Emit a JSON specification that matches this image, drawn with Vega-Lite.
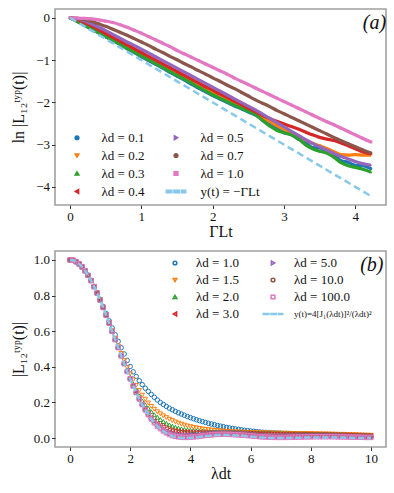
{
"$schema":"https://vega.github.io/schema/vega-lite/v6.json",
"padding":{"left":9,"top":8,"right":6,"bottom":4},
"bounds":"flush",
"spacing":46,
"config":{
 "font":"Liberation Serif",
 "view":{"stroke":"#a0a0a0","strokeWidth":1.6},
 "axis":{"grid":false,"domain":false,"ticks":true,"tickColor":"#333","tickSize":3.5,"tickWidth":1,"labelFont":"Liberation Serif","labelFontSize":13,"labelColor":"#111","labelPadding":2,"titleFont":"Liberation Serif","titleFontSize":16,"titleFontWeight":"normal","titleColor":"#111"},
 "legend":{"labelFont":"Liberation Serif","labelFontSize":13,"labelFontWeight":"normal","labelColor":"#111"}
},
"resolve":{"scale":{"color":"independent","shape":"independent"},"legend":{"color":"independent","shape":"independent"}},
"datasets":{
"a":[
{"s":"0.1","x":0,"y":0},{"s":"0.1","x":0.1,"y":-0.085},{"s":"0.1","x":0.2,"y":-0.175},{"s":"0.1","x":0.3,"y":-0.265},{"s":"0.1","x":0.4,"y":-0.355},{"s":"0.1","x":0.5,"y":-0.45},{"s":"0.1","x":0.6,"y":-0.54},{"s":"0.1","x":0.7,"y":-0.63},{"s":"0.1","x":0.8,"y":-0.73},{"s":"0.1","x":0.9,"y":-0.82},{"s":"0.1","x":1.0,"y":-0.92},{"s":"0.1","x":1.1,"y":-1.01},{"s":"0.1","x":1.2,"y":-1.1},{"s":"0.1","x":1.3,"y":-1.19},{"s":"0.1","x":1.4,"y":-1.29},{"s":"0.1","x":1.5,"y":-1.38},{"s":"0.1","x":1.6,"y":-1.47},{"s":"0.1","x":1.7,"y":-1.57},{"s":"0.1","x":1.8,"y":-1.66},{"s":"0.1","x":1.9,"y":-1.75},{"s":"0.1","x":2.0,"y":-1.84},{"s":"0.1","x":2.1,"y":-1.92},{"s":"0.1","x":2.2,"y":-2.0},{"s":"0.1","x":2.3,"y":-2.08},{"s":"0.1","x":2.4,"y":-2.15},{"s":"0.1","x":2.5,"y":-2.23},{"s":"0.1","x":2.6,"y":-2.3},{"s":"0.1","x":2.7,"y":-2.41},{"s":"0.1","x":2.8,"y":-2.53},{"s":"0.1","x":2.9,"y":-2.6},{"s":"0.1","x":3.0,"y":-2.72},{"s":"0.1","x":3.1,"y":-2.76},{"s":"0.1","x":3.2,"y":-2.87},{"s":"0.1","x":3.3,"y":-2.94},{"s":"0.1","x":3.4,"y":-3.07},{"s":"0.1","x":3.5,"y":-3.08},{"s":"0.1","x":3.6,"y":-3.16},{"s":"0.1","x":3.7,"y":-3.24},{"s":"0.1","x":3.8,"y":-3.38},{"s":"0.1","x":3.9,"y":-3.42},{"s":"0.1","x":4.0,"y":-3.49},{"s":"0.1","x":4.1,"y":-3.5},{"s":"0.1","x":4.22,"y":-3.57},
{"s":"0.2","x":0,"y":0},{"s":"0.2","x":0.1,"y":-0.08},{"s":"0.2","x":0.2,"y":-0.17},{"s":"0.2","x":0.3,"y":-0.25},{"s":"0.2","x":0.4,"y":-0.34},{"s":"0.2","x":0.5,"y":-0.43},{"s":"0.2","x":0.6,"y":-0.52},{"s":"0.2","x":0.7,"y":-0.61},{"s":"0.2","x":0.8,"y":-0.71},{"s":"0.2","x":0.9,"y":-0.8},{"s":"0.2","x":1.0,"y":-0.89},{"s":"0.2","x":1.1,"y":-0.98},{"s":"0.2","x":1.2,"y":-1.07},{"s":"0.2","x":1.3,"y":-1.16},{"s":"0.2","x":1.4,"y":-1.25},{"s":"0.2","x":1.5,"y":-1.34},{"s":"0.2","x":1.6,"y":-1.43},{"s":"0.2","x":1.7,"y":-1.52},{"s":"0.2","x":1.8,"y":-1.61},{"s":"0.2","x":1.9,"y":-1.7},{"s":"0.2","x":2.0,"y":-1.78},{"s":"0.2","x":2.1,"y":-1.86},{"s":"0.2","x":2.2,"y":-1.94},{"s":"0.2","x":2.3,"y":-2.02},{"s":"0.2","x":2.4,"y":-2.1},{"s":"0.2","x":2.5,"y":-2.18},{"s":"0.2","x":2.6,"y":-2.26},{"s":"0.2","x":2.7,"y":-2.35},{"s":"0.2","x":2.8,"y":-2.45},{"s":"0.2","x":2.9,"y":-2.55},{"s":"0.2","x":3.0,"y":-2.64},{"s":"0.2","x":3.1,"y":-2.71},{"s":"0.2","x":3.2,"y":-2.79},{"s":"0.2","x":3.3,"y":-2.89},{"s":"0.2","x":3.4,"y":-2.97},{"s":"0.2","x":3.5,"y":-3.03},{"s":"0.2","x":3.6,"y":-3.09},{"s":"0.2","x":3.7,"y":-3.17},{"s":"0.2","x":3.8,"y":-3.24},{"s":"0.2","x":3.9,"y":-3.25},{"s":"0.2","x":4.0,"y":-3.24},{"s":"0.2","x":4.1,"y":-3.25},{"s":"0.2","x":4.22,"y":-3.25},
{"s":"0.3","x":0,"y":0},{"s":"0.3","x":0.1,"y":-0.08},{"s":"0.3","x":0.2,"y":-0.17},{"s":"0.3","x":0.3,"y":-0.26},{"s":"0.3","x":0.4,"y":-0.35},{"s":"0.3","x":0.5,"y":-0.44},{"s":"0.3","x":0.6,"y":-0.53},{"s":"0.3","x":0.7,"y":-0.62},{"s":"0.3","x":0.8,"y":-0.72},{"s":"0.3","x":0.9,"y":-0.81},{"s":"0.3","x":1.0,"y":-0.9},{"s":"0.3","x":1.1,"y":-0.99},{"s":"0.3","x":1.2,"y":-1.08},{"s":"0.3","x":1.3,"y":-1.17},{"s":"0.3","x":1.4,"y":-1.27},{"s":"0.3","x":1.5,"y":-1.36},{"s":"0.3","x":1.6,"y":-1.45},{"s":"0.3","x":1.7,"y":-1.54},{"s":"0.3","x":1.8,"y":-1.64},{"s":"0.3","x":1.9,"y":-1.73},{"s":"0.3","x":2.0,"y":-1.82},{"s":"0.3","x":2.1,"y":-1.9},{"s":"0.3","x":2.2,"y":-1.98},{"s":"0.3","x":2.3,"y":-2.06},{"s":"0.3","x":2.4,"y":-2.14},{"s":"0.3","x":2.5,"y":-2.21},{"s":"0.3","x":2.6,"y":-2.29},{"s":"0.3","x":2.7,"y":-2.43},{"s":"0.3","x":2.8,"y":-2.56},{"s":"0.3","x":2.9,"y":-2.66},{"s":"0.3","x":3.0,"y":-2.72},{"s":"0.3","x":3.1,"y":-2.77},{"s":"0.3","x":3.2,"y":-2.86},{"s":"0.3","x":3.3,"y":-3.0},{"s":"0.3","x":3.4,"y":-3.1},{"s":"0.3","x":3.5,"y":-3.16},{"s":"0.3","x":3.6,"y":-3.2},{"s":"0.3","x":3.7,"y":-3.3},{"s":"0.3","x":3.8,"y":-3.43},{"s":"0.3","x":3.9,"y":-3.5},{"s":"0.3","x":4.0,"y":-3.54},{"s":"0.3","x":4.1,"y":-3.58},{"s":"0.3","x":4.22,"y":-3.65},
{"s":"0.4","x":0,"y":0},{"s":"0.4","x":0.1,"y":-0.04},{"s":"0.4","x":0.2,"y":-0.11},{"s":"0.4","x":0.3,"y":-0.19},{"s":"0.4","x":0.4,"y":-0.28},{"s":"0.4","x":0.5,"y":-0.37},{"s":"0.4","x":0.6,"y":-0.46},{"s":"0.4","x":0.7,"y":-0.55},{"s":"0.4","x":0.8,"y":-0.64},{"s":"0.4","x":0.9,"y":-0.73},{"s":"0.4","x":1.0,"y":-0.82},{"s":"0.4","x":1.1,"y":-0.91},{"s":"0.4","x":1.2,"y":-1.0},{"s":"0.4","x":1.3,"y":-1.09},{"s":"0.4","x":1.4,"y":-1.18},{"s":"0.4","x":1.5,"y":-1.27},{"s":"0.4","x":1.6,"y":-1.36},{"s":"0.4","x":1.7,"y":-1.45},{"s":"0.4","x":1.8,"y":-1.54},{"s":"0.4","x":1.9,"y":-1.63},{"s":"0.4","x":2.0,"y":-1.71},{"s":"0.4","x":2.1,"y":-1.8},{"s":"0.4","x":2.2,"y":-1.88},{"s":"0.4","x":2.3,"y":-1.97},{"s":"0.4","x":2.4,"y":-2.05},{"s":"0.4","x":2.5,"y":-2.14},{"s":"0.4","x":2.6,"y":-2.22},{"s":"0.4","x":2.7,"y":-2.31},{"s":"0.4","x":2.8,"y":-2.38},{"s":"0.4","x":2.9,"y":-2.45},{"s":"0.4","x":3.0,"y":-2.51},{"s":"0.4","x":3.1,"y":-2.57},{"s":"0.4","x":3.2,"y":-2.63},{"s":"0.4","x":3.3,"y":-2.7},{"s":"0.4","x":3.4,"y":-2.77},{"s":"0.4","x":3.5,"y":-2.83},{"s":"0.4","x":3.6,"y":-2.87},{"s":"0.4","x":3.7,"y":-2.9},{"s":"0.4","x":3.8,"y":-2.96},{"s":"0.4","x":3.9,"y":-3.03},{"s":"0.4","x":4.0,"y":-3.1},{"s":"0.4","x":4.1,"y":-3.17},{"s":"0.4","x":4.22,"y":-3.22},
{"s":"0.5","x":0,"y":0},{"s":"0.5","x":0.1,"y":-0.02},{"s":"0.5","x":0.2,"y":-0.07},{"s":"0.5","x":0.3,"y":-0.14},{"s":"0.5","x":0.4,"y":-0.22},{"s":"0.5","x":0.5,"y":-0.3},{"s":"0.5","x":0.6,"y":-0.39},{"s":"0.5","x":0.7,"y":-0.48},{"s":"0.5","x":0.8,"y":-0.57},{"s":"0.5","x":0.9,"y":-0.65},{"s":"0.5","x":1.0,"y":-0.74},{"s":"0.5","x":1.1,"y":-0.83},{"s":"0.5","x":1.2,"y":-0.92},{"s":"0.5","x":1.3,"y":-1.01},{"s":"0.5","x":1.4,"y":-1.1},{"s":"0.5","x":1.5,"y":-1.19},{"s":"0.5","x":1.6,"y":-1.28},{"s":"0.5","x":1.7,"y":-1.37},{"s":"0.5","x":1.8,"y":-1.46},{"s":"0.5","x":1.9,"y":-1.55},{"s":"0.5","x":2.0,"y":-1.64},{"s":"0.5","x":2.1,"y":-1.73},{"s":"0.5","x":2.2,"y":-1.82},{"s":"0.5","x":2.3,"y":-1.91},{"s":"0.5","x":2.4,"y":-2.0},{"s":"0.5","x":2.5,"y":-2.09},{"s":"0.5","x":2.6,"y":-2.18},{"s":"0.5","x":2.7,"y":-2.28},{"s":"0.5","x":2.8,"y":-2.38},{"s":"0.5","x":2.9,"y":-2.48},{"s":"0.5","x":3.0,"y":-2.58},{"s":"0.5","x":3.1,"y":-2.68},{"s":"0.5","x":3.2,"y":-2.78},{"s":"0.5","x":3.3,"y":-2.88},{"s":"0.5","x":3.4,"y":-2.97},{"s":"0.5","x":3.5,"y":-3.05},{"s":"0.5","x":3.6,"y":-3.13},{"s":"0.5","x":3.7,"y":-3.21},{"s":"0.5","x":3.8,"y":-3.28},{"s":"0.5","x":3.9,"y":-3.34},{"s":"0.5","x":4.0,"y":-3.4},{"s":"0.5","x":4.1,"y":-3.45},{"s":"0.5","x":4.22,"y":-3.49},
{"s":"0.7","x":0,"y":0},{"s":"0.7","x":0.1,"y":-0.01},{"s":"0.7","x":0.2,"y":-0.04},{"s":"0.7","x":0.3,"y":-0.08},{"s":"0.7","x":0.4,"y":-0.14},{"s":"0.7","x":0.5,"y":-0.2},{"s":"0.7","x":0.6,"y":-0.27},{"s":"0.7","x":0.7,"y":-0.34},{"s":"0.7","x":0.8,"y":-0.41},{"s":"0.7","x":0.9,"y":-0.49},{"s":"0.7","x":1.0,"y":-0.57},{"s":"0.7","x":1.1,"y":-0.65},{"s":"0.7","x":1.2,"y":-0.74},{"s":"0.7","x":1.3,"y":-0.82},{"s":"0.7","x":1.4,"y":-0.91},{"s":"0.7","x":1.5,"y":-0.99},{"s":"0.7","x":1.6,"y":-1.08},{"s":"0.7","x":1.7,"y":-1.16},{"s":"0.7","x":1.8,"y":-1.25},{"s":"0.7","x":1.9,"y":-1.33},{"s":"0.7","x":2.0,"y":-1.42},{"s":"0.7","x":2.1,"y":-1.5},{"s":"0.7","x":2.2,"y":-1.59},{"s":"0.7","x":2.3,"y":-1.67},{"s":"0.7","x":2.4,"y":-1.76},{"s":"0.7","x":2.5,"y":-1.85},{"s":"0.7","x":2.6,"y":-1.94},{"s":"0.7","x":2.7,"y":-2.02},{"s":"0.7","x":2.8,"y":-2.1},{"s":"0.7","x":2.9,"y":-2.19},{"s":"0.7","x":3.0,"y":-2.27},{"s":"0.7","x":3.1,"y":-2.35},{"s":"0.7","x":3.2,"y":-2.43},{"s":"0.7","x":3.3,"y":-2.51},{"s":"0.7","x":3.4,"y":-2.59},{"s":"0.7","x":3.5,"y":-2.67},{"s":"0.7","x":3.6,"y":-2.75},{"s":"0.7","x":3.7,"y":-2.83},{"s":"0.7","x":3.8,"y":-2.91},{"s":"0.7","x":3.9,"y":-2.98},{"s":"0.7","x":4.0,"y":-3.05},{"s":"0.7","x":4.1,"y":-3.12},{"s":"0.7","x":4.22,"y":-3.2},
{"s":"1.0","x":0,"y":0},{"s":"1.0","x":0.1,"y":-0.003},{"s":"1.0","x":0.2,"y":-0.01},{"s":"1.0","x":0.3,"y":-0.025},{"s":"1.0","x":0.4,"y":-0.045},{"s":"1.0","x":0.5,"y":-0.075},{"s":"1.0","x":0.6,"y":-0.11},{"s":"1.0","x":0.7,"y":-0.16},{"s":"1.0","x":0.8,"y":-0.22},{"s":"1.0","x":0.9,"y":-0.29},{"s":"1.0","x":1.0,"y":-0.36},{"s":"1.0","x":1.1,"y":-0.44},{"s":"1.0","x":1.2,"y":-0.52},{"s":"1.0","x":1.3,"y":-0.6},{"s":"1.0","x":1.4,"y":-0.68},{"s":"1.0","x":1.5,"y":-0.77},{"s":"1.0","x":1.6,"y":-0.85},{"s":"1.0","x":1.7,"y":-0.93},{"s":"1.0","x":1.8,"y":-1.01},{"s":"1.0","x":1.9,"y":-1.09},{"s":"1.0","x":2.0,"y":-1.17},{"s":"1.0","x":2.1,"y":-1.25},{"s":"1.0","x":2.2,"y":-1.33},{"s":"1.0","x":2.3,"y":-1.42},{"s":"1.0","x":2.4,"y":-1.5},{"s":"1.0","x":2.5,"y":-1.58},{"s":"1.0","x":2.6,"y":-1.66},{"s":"1.0","x":2.7,"y":-1.74},{"s":"1.0","x":2.8,"y":-1.82},{"s":"1.0","x":2.9,"y":-1.9},{"s":"1.0","x":3.0,"y":-1.98},{"s":"1.0","x":3.1,"y":-2.06},{"s":"1.0","x":3.2,"y":-2.14},{"s":"1.0","x":3.3,"y":-2.22},{"s":"1.0","x":3.4,"y":-2.3},{"s":"1.0","x":3.5,"y":-2.38},{"s":"1.0","x":3.6,"y":-2.46},{"s":"1.0","x":3.7,"y":-2.53},{"s":"1.0","x":3.8,"y":-2.61},{"s":"1.0","x":3.9,"y":-2.69},{"s":"1.0","x":4.0,"y":-2.77},{"s":"1.0","x":4.1,"y":-2.85},{"s":"1.0","x":4.22,"y":-2.94},
{"s":"fit","x":0,"y":0},{"s":"fit","x":4.22,"y":-4.22}
],
"b":[
{"s":"1.0","x":0,"y":1},{"s":"1.0","x":0.1,"y":0.998},{"s":"1.0","x":0.2,"y":0.99},{"s":"1.0","x":0.3,"y":0.978},{"s":"1.0","x":0.4,"y":0.961},{"s":"1.0","x":0.5,"y":0.94},{"s":"1.0","x":0.6,"y":0.914},{"s":"1.0","x":0.7,"y":0.885},{"s":"1.0","x":0.8,"y":0.852},{"s":"1.0","x":0.9,"y":0.817},
{"s":"1.0","x":1.0,"y":0.779},{"s":"1.0","x":1.1,"y":0.739},{"s":"1.0","x":1.2,"y":0.699},{"s":"1.0","x":1.3,"y":0.658},{"s":"1.0","x":1.4,"y":0.618},{"s":"1.0","x":1.5,"y":0.58},{"s":"1.0","x":1.6,"y":0.543},{"s":"1.0","x":1.7,"y":0.507},{"s":"1.0","x":1.8,"y":0.472},{"s":"1.0","x":1.9,"y":0.436},
{"s":"1.0","x":2.0,"y":0.402},{"s":"1.0","x":2.1,"y":0.372},{"s":"1.0","x":2.2,"y":0.346},{"s":"1.0","x":2.3,"y":0.322},{"s":"1.0","x":2.4,"y":0.3},{"s":"1.0","x":2.5,"y":0.28},{"s":"1.0","x":2.6,"y":0.262},{"s":"1.0","x":2.7,"y":0.245},{"s":"1.0","x":2.8,"y":0.229},{"s":"1.0","x":2.9,"y":0.214},
{"s":"1.0","x":3.0,"y":0.2},{"s":"1.0","x":3.1,"y":0.189},{"s":"1.0","x":3.2,"y":0.178},{"s":"1.0","x":3.3,"y":0.168},{"s":"1.0","x":3.4,"y":0.159},{"s":"1.0","x":3.5,"y":0.15},{"s":"1.0","x":3.6,"y":0.142},{"s":"1.0","x":3.7,"y":0.135},{"s":"1.0","x":3.8,"y":0.128},{"s":"1.0","x":3.9,"y":0.121},
{"s":"1.0","x":4.0,"y":0.115},{"s":"1.0","x":4.1,"y":0.109},{"s":"1.0","x":4.2,"y":0.103},{"s":"1.0","x":4.3,"y":0.098},{"s":"1.0","x":4.4,"y":0.093},{"s":"1.0","x":4.5,"y":0.088},{"s":"1.0","x":4.6,"y":0.083},{"s":"1.0","x":4.7,"y":0.079},{"s":"1.0","x":4.8,"y":0.075},{"s":"1.0","x":4.9,"y":0.071},
{"s":"1.0","x":5.0,"y":0.067},{"s":"1.0","x":5.1,"y":0.064},{"s":"1.0","x":5.2,"y":0.06},{"s":"1.0","x":5.3,"y":0.057},{"s":"1.0","x":5.4,"y":0.054},{"s":"1.0","x":5.5,"y":0.051},{"s":"1.0","x":5.6,"y":0.049},{"s":"1.0","x":5.7,"y":0.046},{"s":"1.0","x":5.8,"y":0.044},{"s":"1.0","x":5.9,"y":0.042},
{"s":"1.0","x":6.0,"y":0.04},{"s":"1.0","x":6.1,"y":0.038},{"s":"1.0","x":6.2,"y":0.036},{"s":"1.0","x":6.3,"y":0.035},{"s":"1.0","x":6.4,"y":0.033},{"s":"1.0","x":6.5,"y":0.032},{"s":"1.0","x":6.6,"y":0.031},{"s":"1.0","x":6.7,"y":0.03},{"s":"1.0","x":6.8,"y":0.029},{"s":"1.0","x":6.9,"y":0.028},
{"s":"1.0","x":7.0,"y":0.027},{"s":"1.0","x":7.1,"y":0.026},{"s":"1.0","x":7.2,"y":0.026},{"s":"1.0","x":7.3,"y":0.025},{"s":"1.0","x":7.4,"y":0.025},{"s":"1.0","x":7.5,"y":0.024},{"s":"1.0","x":7.6,"y":0.024},{"s":"1.0","x":7.7,"y":0.023},{"s":"1.0","x":7.8,"y":0.023},{"s":"1.0","x":7.9,"y":0.022},
{"s":"1.0","x":8.0,"y":0.022},{"s":"1.0","x":8.1,"y":0.021},{"s":"1.0","x":8.2,"y":0.021},{"s":"1.0","x":8.3,"y":0.02},{"s":"1.0","x":8.4,"y":0.02},{"s":"1.0","x":8.5,"y":0.02},{"s":"1.0","x":8.6,"y":0.019},{"s":"1.0","x":8.7,"y":0.019},{"s":"1.0","x":8.8,"y":0.018},{"s":"1.0","x":8.9,"y":0.018},
{"s":"1.0","x":9.0,"y":0.017},{"s":"1.0","x":9.1,"y":0.017},{"s":"1.0","x":9.2,"y":0.016},{"s":"1.0","x":9.3,"y":0.016},{"s":"1.0","x":9.4,"y":0.015},{"s":"1.0","x":9.5,"y":0.015},{"s":"1.0","x":9.6,"y":0.014},{"s":"1.0","x":9.7,"y":0.014},{"s":"1.0","x":9.8,"y":0.013},{"s":"1.0","x":9.9,"y":0.013},{"s":"1.0","x":10,"y":0.012},
{"s":"1.5","x":0,"y":1},{"s":"1.5","x":0.1,"y":0.998},{"s":"1.5","x":0.2,"y":0.99},{"s":"1.5","x":0.3,"y":0.978},{"s":"1.5","x":0.4,"y":0.961},{"s":"1.5","x":0.5,"y":0.939},{"s":"1.5","x":0.6,"y":0.913},{"s":"1.5","x":0.7,"y":0.884},{"s":"1.5","x":0.8,"y":0.851},{"s":"1.5","x":0.9,"y":0.815},
{"s":"1.5","x":1.0,"y":0.776},{"s":"1.5","x":1.1,"y":0.735},{"s":"1.5","x":1.2,"y":0.692},{"s":"1.5","x":1.3,"y":0.648},{"s":"1.5","x":1.4,"y":0.603},{"s":"1.5","x":1.5,"y":0.56},{"s":"1.5","x":1.6,"y":0.517},{"s":"1.5","x":1.7,"y":0.475},{"s":"1.5","x":1.8,"y":0.435},{"s":"1.5","x":1.9,"y":0.397},
{"s":"1.5","x":2.0,"y":0.361},{"s":"1.5","x":2.1,"y":0.327},{"s":"1.5","x":2.2,"y":0.296},{"s":"1.5","x":2.3,"y":0.267},{"s":"1.5","x":2.4,"y":0.241},{"s":"1.5","x":2.5,"y":0.218},{"s":"1.5","x":2.6,"y":0.197},{"s":"1.5","x":2.7,"y":0.178},{"s":"1.5","x":2.8,"y":0.162},{"s":"1.5","x":2.9,"y":0.148},
{"s":"1.5","x":3.0,"y":0.136},{"s":"1.5","x":3.1,"y":0.125},{"s":"1.5","x":3.2,"y":0.115},{"s":"1.5","x":3.3,"y":0.106},{"s":"1.5","x":3.4,"y":0.098},{"s":"1.5","x":3.5,"y":0.091},{"s":"1.5","x":3.6,"y":0.084},{"s":"1.5","x":3.7,"y":0.078},{"s":"1.5","x":3.8,"y":0.073},{"s":"1.5","x":3.9,"y":0.068},
{"s":"1.5","x":4.0,"y":0.064},{"s":"1.5","x":4.1,"y":0.06},{"s":"1.5","x":4.2,"y":0.057},{"s":"1.5","x":4.3,"y":0.054},{"s":"1.5","x":4.4,"y":0.051},{"s":"1.5","x":4.5,"y":0.049},{"s":"1.5","x":4.6,"y":0.047},{"s":"1.5","x":4.7,"y":0.045},{"s":"1.5","x":4.8,"y":0.043},{"s":"1.5","x":4.9,"y":0.042},
{"s":"1.5","x":5.0,"y":0.04},{"s":"1.5","x":5.1,"y":0.039},{"s":"1.5","x":5.2,"y":0.038},{"s":"1.5","x":5.3,"y":0.037},{"s":"1.5","x":5.4,"y":0.036},{"s":"1.5","x":5.5,"y":0.035},{"s":"1.5","x":5.6,"y":0.034},{"s":"1.5","x":5.7,"y":0.033},{"s":"1.5","x":5.8,"y":0.033},{"s":"1.5","x":5.9,"y":0.032},
{"s":"1.5","x":6.0,"y":0.031},{"s":"1.5","x":6.1,"y":0.031},{"s":"1.5","x":6.2,"y":0.03},{"s":"1.5","x":6.3,"y":0.03},{"s":"1.5","x":6.4,"y":0.03},{"s":"1.5","x":6.5,"y":0.029},{"s":"1.5","x":6.6,"y":0.029},{"s":"1.5","x":6.7,"y":0.029},{"s":"1.5","x":6.8,"y":0.028},{"s":"1.5","x":6.9,"y":0.028},
{"s":"1.5","x":7.0,"y":0.028},{"s":"1.5","x":7.1,"y":0.027},{"s":"1.5","x":7.2,"y":0.027},{"s":"1.5","x":7.3,"y":0.027},{"s":"1.5","x":7.4,"y":0.026},{"s":"1.5","x":7.5,"y":0.026},{"s":"1.5","x":7.6,"y":0.026},{"s":"1.5","x":7.7,"y":0.025},{"s":"1.5","x":7.8,"y":0.025},{"s":"1.5","x":7.9,"y":0.025},
{"s":"1.5","x":8.0,"y":0.025},{"s":"1.5","x":8.1,"y":0.024},{"s":"1.5","x":8.2,"y":0.024},{"s":"1.5","x":8.3,"y":0.024},{"s":"1.5","x":8.4,"y":0.023},{"s":"1.5","x":8.5,"y":0.023},{"s":"1.5","x":8.6,"y":0.023},{"s":"1.5","x":8.7,"y":0.022},{"s":"1.5","x":8.8,"y":0.022},{"s":"1.5","x":8.9,"y":0.021},
{"s":"1.5","x":9.0,"y":0.021},{"s":"1.5","x":9.1,"y":0.021},{"s":"1.5","x":9.2,"y":0.02},{"s":"1.5","x":9.3,"y":0.02},{"s":"1.5","x":9.4,"y":0.019},{"s":"1.5","x":9.5,"y":0.019},{"s":"1.5","x":9.6,"y":0.018},{"s":"1.5","x":9.7,"y":0.017},{"s":"1.5","x":9.8,"y":0.017},{"s":"1.5","x":9.9,"y":0.016},{"s":"1.5","x":10,"y":0.016},
{"s":"2.0","x":0,"y":1},{"s":"2.0","x":0.1,"y":0.998},{"s":"2.0","x":0.2,"y":0.99},{"s":"2.0","x":0.3,"y":0.978},{"s":"2.0","x":0.4,"y":0.961},{"s":"2.0","x":0.5,"y":0.939},{"s":"2.0","x":0.6,"y":0.913},{"s":"2.0","x":0.7,"y":0.884},{"s":"2.0","x":0.8,"y":0.85},{"s":"2.0","x":0.9,"y":0.814},
{"s":"2.0","x":1.0,"y":0.775},{"s":"2.0","x":1.1,"y":0.734},{"s":"2.0","x":1.2,"y":0.691},{"s":"2.0","x":1.3,"y":0.646},{"s":"2.0","x":1.4,"y":0.601},{"s":"2.0","x":1.5,"y":0.556},{"s":"2.0","x":1.6,"y":0.511},{"s":"2.0","x":1.7,"y":0.466},{"s":"2.0","x":1.8,"y":0.423},{"s":"2.0","x":1.9,"y":0.381},
{"s":"2.0","x":2.0,"y":0.341},{"s":"2.0","x":2.1,"y":0.303},{"s":"2.0","x":2.2,"y":0.268},{"s":"2.0","x":2.3,"y":0.236},{"s":"2.0","x":2.4,"y":0.208},{"s":"2.0","x":2.5,"y":0.187},{"s":"2.0","x":2.6,"y":0.167},{"s":"2.0","x":2.7,"y":0.148},{"s":"2.0","x":2.8,"y":0.131},{"s":"2.0","x":2.9,"y":0.117},
{"s":"2.0","x":3.0,"y":0.104},{"s":"2.0","x":3.1,"y":0.093},{"s":"2.0","x":3.2,"y":0.083},{"s":"2.0","x":3.3,"y":0.074},{"s":"2.0","x":3.4,"y":0.067},{"s":"2.0","x":3.5,"y":0.061},{"s":"2.0","x":3.6,"y":0.056},{"s":"2.0","x":3.7,"y":0.052},{"s":"2.0","x":3.8,"y":0.049},{"s":"2.0","x":3.9,"y":0.046},
{"s":"2.0","x":4.0,"y":0.044},{"s":"2.0","x":4.1,"y":0.042},{"s":"2.0","x":4.2,"y":0.04},{"s":"2.0","x":4.3,"y":0.038},{"s":"2.0","x":4.4,"y":0.037},{"s":"2.0","x":4.5,"y":0.036},{"s":"2.0","x":4.6,"y":0.035},{"s":"2.0","x":4.7,"y":0.035},{"s":"2.0","x":4.8,"y":0.035},{"s":"2.0","x":4.9,"y":0.035},
{"s":"2.0","x":5.0,"y":0.035},{"s":"2.0","x":5.1,"y":0.034},{"s":"2.0","x":5.2,"y":0.034},{"s":"2.0","x":5.3,"y":0.034},{"s":"2.0","x":5.4,"y":0.034},{"s":"2.0","x":5.5,"y":0.033},{"s":"2.0","x":5.6,"y":0.033},{"s":"2.0","x":5.7,"y":0.032},{"s":"2.0","x":5.8,"y":0.032},{"s":"2.0","x":5.9,"y":0.031},
{"s":"2.0","x":6.0,"y":0.031},{"s":"2.0","x":6.1,"y":0.03},{"s":"2.0","x":6.2,"y":0.03},{"s":"2.0","x":6.3,"y":0.029},{"s":"2.0","x":6.4,"y":0.029},{"s":"2.0","x":6.5,"y":0.028},{"s":"2.0","x":6.6,"y":0.028},{"s":"2.0","x":6.7,"y":0.027},{"s":"2.0","x":6.8,"y":0.027},{"s":"2.0","x":6.9,"y":0.027},
{"s":"2.0","x":7.0,"y":0.026},{"s":"2.0","x":7.1,"y":0.026},{"s":"2.0","x":7.2,"y":0.026},{"s":"2.0","x":7.3,"y":0.025},{"s":"2.0","x":7.4,"y":0.025},{"s":"2.0","x":7.5,"y":0.025},{"s":"2.0","x":7.6,"y":0.024},{"s":"2.0","x":7.7,"y":0.024},{"s":"2.0","x":7.8,"y":0.024},{"s":"2.0","x":7.9,"y":0.023},
{"s":"2.0","x":8.0,"y":0.023},{"s":"2.0","x":8.1,"y":0.023},{"s":"2.0","x":8.2,"y":0.022},{"s":"2.0","x":8.3,"y":0.022},{"s":"2.0","x":8.4,"y":0.022},{"s":"2.0","x":8.5,"y":0.021},{"s":"2.0","x":8.6,"y":0.021},{"s":"2.0","x":8.7,"y":0.021},{"s":"2.0","x":8.8,"y":0.02},{"s":"2.0","x":8.9,"y":0.02},
{"s":"2.0","x":9.0,"y":0.02},{"s":"2.0","x":9.1,"y":0.019},{"s":"2.0","x":9.2,"y":0.019},{"s":"2.0","x":9.3,"y":0.018},{"s":"2.0","x":9.4,"y":0.018},{"s":"2.0","x":9.5,"y":0.017},{"s":"2.0","x":9.6,"y":0.017},{"s":"2.0","x":9.7,"y":0.016},{"s":"2.0","x":9.8,"y":0.016},{"s":"2.0","x":9.9,"y":0.015},{"s":"2.0","x":10,"y":0.015},
{"s":"3.0","x":0,"y":1},{"s":"3.0","x":0.1,"y":0.998},{"s":"3.0","x":0.2,"y":0.99},{"s":"3.0","x":0.3,"y":0.978},{"s":"3.0","x":0.4,"y":0.961},{"s":"3.0","x":0.5,"y":0.939},{"s":"3.0","x":0.6,"y":0.913},{"s":"3.0","x":0.7,"y":0.884},{"s":"3.0","x":0.8,"y":0.85},{"s":"3.0","x":0.9,"y":0.814},
{"s":"3.0","x":1.0,"y":0.775},{"s":"3.0","x":1.1,"y":0.733},{"s":"3.0","x":1.2,"y":0.69},{"s":"3.0","x":1.3,"y":0.645},{"s":"3.0","x":1.4,"y":0.599},{"s":"3.0","x":1.5,"y":0.554},{"s":"3.0","x":1.6,"y":0.508},{"s":"3.0","x":1.7,"y":0.463},{"s":"3.0","x":1.8,"y":0.419},{"s":"3.0","x":1.9,"y":0.376},
{"s":"3.0","x":2.0,"y":0.335},{"s":"3.0","x":2.1,"y":0.296},{"s":"3.0","x":2.2,"y":0.259},{"s":"3.0","x":2.3,"y":0.224},{"s":"3.0","x":2.4,"y":0.192},{"s":"3.0","x":2.5,"y":0.162},{"s":"3.0","x":2.6,"y":0.136},{"s":"3.0","x":2.7,"y":0.113},{"s":"3.0","x":2.8,"y":0.095},{"s":"3.0","x":2.9,"y":0.081},
{"s":"3.0","x":3.0,"y":0.071},{"s":"3.0","x":3.1,"y":0.062},{"s":"3.0","x":3.2,"y":0.054},{"s":"3.0","x":3.3,"y":0.047},{"s":"3.0","x":3.4,"y":0.043},{"s":"3.0","x":3.5,"y":0.04},{"s":"3.0","x":3.6,"y":0.038},{"s":"3.0","x":3.7,"y":0.036},{"s":"3.0","x":3.8,"y":0.035},{"s":"3.0","x":3.9,"y":0.034},
{"s":"3.0","x":4.0,"y":0.033},{"s":"3.0","x":4.1,"y":0.032},{"s":"3.0","x":4.2,"y":0.032},{"s":"3.0","x":4.3,"y":0.031},{"s":"3.0","x":4.4,"y":0.031},{"s":"3.0","x":4.5,"y":0.031},{"s":"3.0","x":4.6,"y":0.031},{"s":"3.0","x":4.7,"y":0.031},{"s":"3.0","x":4.8,"y":0.031},{"s":"3.0","x":4.9,"y":0.031},
{"s":"3.0","x":5.0,"y":0.031},{"s":"3.0","x":5.1,"y":0.031},{"s":"3.0","x":5.2,"y":0.03},{"s":"3.0","x":5.3,"y":0.03},{"s":"3.0","x":5.4,"y":0.03},{"s":"3.0","x":5.5,"y":0.029},{"s":"3.0","x":5.6,"y":0.029},{"s":"3.0","x":5.7,"y":0.028},{"s":"3.0","x":5.8,"y":0.028},{"s":"3.0","x":5.9,"y":0.027},
{"s":"3.0","x":6.0,"y":0.027},{"s":"3.0","x":6.1,"y":0.026},{"s":"3.0","x":6.2,"y":0.026},{"s":"3.0","x":6.3,"y":0.025},{"s":"3.0","x":6.4,"y":0.025},{"s":"3.0","x":6.5,"y":0.024},{"s":"3.0","x":6.6,"y":0.024},{"s":"3.0","x":6.7,"y":0.023},{"s":"3.0","x":6.8,"y":0.023},{"s":"3.0","x":6.9,"y":0.023},
{"s":"3.0","x":7.0,"y":0.022},{"s":"3.0","x":7.1,"y":0.022},{"s":"3.0","x":7.2,"y":0.022},{"s":"3.0","x":7.3,"y":0.022},{"s":"3.0","x":7.4,"y":0.022},{"s":"3.0","x":7.5,"y":0.021},{"s":"3.0","x":7.6,"y":0.021},{"s":"3.0","x":7.7,"y":0.021},{"s":"3.0","x":7.8,"y":0.021},{"s":"3.0","x":7.9,"y":0.021},
{"s":"3.0","x":8.0,"y":0.021},{"s":"3.0","x":8.1,"y":0.02},{"s":"3.0","x":8.2,"y":0.02},{"s":"3.0","x":8.3,"y":0.02},{"s":"3.0","x":8.4,"y":0.02},{"s":"3.0","x":8.5,"y":0.02},{"s":"3.0","x":8.6,"y":0.019},{"s":"3.0","x":8.7,"y":0.019},{"s":"3.0","x":8.8,"y":0.019},{"s":"3.0","x":8.9,"y":0.018},
{"s":"3.0","x":9.0,"y":0.018},{"s":"3.0","x":9.1,"y":0.018},{"s":"3.0","x":9.2,"y":0.017},{"s":"3.0","x":9.3,"y":0.017},{"s":"3.0","x":9.4,"y":0.016},{"s":"3.0","x":9.5,"y":0.016},{"s":"3.0","x":9.6,"y":0.015},{"s":"3.0","x":9.7,"y":0.015},{"s":"3.0","x":9.8,"y":0.014},{"s":"3.0","x":9.9,"y":0.014},{"s":"3.0","x":10,"y":0.013},
{"s":"5.0","x":0,"y":1},{"s":"5.0","x":0.1,"y":0.998},{"s":"5.0","x":0.2,"y":0.99},{"s":"5.0","x":0.3,"y":0.978},{"s":"5.0","x":0.4,"y":0.961},{"s":"5.0","x":0.5,"y":0.939},{"s":"5.0","x":0.6,"y":0.913},{"s":"5.0","x":0.7,"y":0.884},{"s":"5.0","x":0.8,"y":0.85},{"s":"5.0","x":0.9,"y":0.814},
{"s":"5.0","x":1.0,"y":0.775},{"s":"5.0","x":1.1,"y":0.733},{"s":"5.0","x":1.2,"y":0.69},{"s":"5.0","x":1.3,"y":0.645},{"s":"5.0","x":1.4,"y":0.599},{"s":"5.0","x":1.5,"y":0.553},{"s":"5.0","x":1.6,"y":0.508},{"s":"5.0","x":1.7,"y":0.462},{"s":"5.0","x":1.8,"y":0.418},{"s":"5.0","x":1.9,"y":0.374},
{"s":"5.0","x":2.0,"y":0.333},{"s":"5.0","x":2.1,"y":0.293},{"s":"5.0","x":2.2,"y":0.256},{"s":"5.0","x":2.3,"y":0.223},{"s":"5.0","x":2.4,"y":0.192},{"s":"5.0","x":2.5,"y":0.164},{"s":"5.0","x":2.6,"y":0.139},{"s":"5.0","x":2.7,"y":0.117},{"s":"5.0","x":2.8,"y":0.097},{"s":"5.0","x":2.9,"y":0.079},
{"s":"5.0","x":3.0,"y":0.065},{"s":"5.0","x":3.1,"y":0.053},{"s":"5.0","x":3.2,"y":0.043},{"s":"5.0","x":3.3,"y":0.034},{"s":"5.0","x":3.4,"y":0.027},{"s":"5.0","x":3.5,"y":0.022},{"s":"5.0","x":3.6,"y":0.019},{"s":"5.0","x":3.7,"y":0.017},{"s":"5.0","x":3.8,"y":0.016},{"s":"5.0","x":3.9,"y":0.016},
{"s":"5.0","x":4.0,"y":0.017},{"s":"5.0","x":4.1,"y":0.018},{"s":"5.0","x":4.2,"y":0.019},{"s":"5.0","x":4.3,"y":0.021},{"s":"5.0","x":4.4,"y":0.023},{"s":"5.0","x":4.5,"y":0.025},{"s":"5.0","x":4.6,"y":0.026},{"s":"5.0","x":4.7,"y":0.027},{"s":"5.0","x":4.8,"y":0.029},{"s":"5.0","x":4.9,"y":0.03},
{"s":"5.0","x":5.0,"y":0.03},{"s":"5.0","x":5.1,"y":0.031},{"s":"5.0","x":5.2,"y":0.03},{"s":"5.0","x":5.3,"y":0.03},{"s":"5.0","x":5.4,"y":0.029},{"s":"5.0","x":5.5,"y":0.028},{"s":"5.0","x":5.6,"y":0.027},{"s":"5.0","x":5.7,"y":0.026},{"s":"5.0","x":5.8,"y":0.025},{"s":"5.0","x":5.9,"y":0.023},
{"s":"5.0","x":6.0,"y":0.022},{"s":"5.0","x":6.1,"y":0.02},{"s":"5.0","x":6.2,"y":0.019},{"s":"5.0","x":6.3,"y":0.017},{"s":"5.0","x":6.4,"y":0.016},{"s":"5.0","x":6.5,"y":0.015},{"s":"5.0","x":6.6,"y":0.014},{"s":"5.0","x":6.7,"y":0.014},{"s":"5.0","x":6.8,"y":0.013},{"s":"5.0","x":6.9,"y":0.013},
{"s":"5.0","x":7.0,"y":0.013},{"s":"5.0","x":7.1,"y":0.013},{"s":"5.0","x":7.2,"y":0.013},{"s":"5.0","x":7.3,"y":0.013},{"s":"5.0","x":7.4,"y":0.013},{"s":"5.0","x":7.5,"y":0.013},{"s":"5.0","x":7.6,"y":0.014},{"s":"5.0","x":7.7,"y":0.014},{"s":"5.0","x":7.8,"y":0.014},{"s":"5.0","x":7.9,"y":0.014},
{"s":"5.0","x":8.0,"y":0.014},{"s":"5.0","x":8.1,"y":0.015},{"s":"5.0","x":8.2,"y":0.015},{"s":"5.0","x":8.3,"y":0.015},{"s":"5.0","x":8.4,"y":0.015},{"s":"5.0","x":8.5,"y":0.015},{"s":"5.0","x":8.6,"y":0.015},{"s":"5.0","x":8.7,"y":0.014},{"s":"5.0","x":8.8,"y":0.014},{"s":"5.0","x":8.9,"y":0.014},
{"s":"5.0","x":9.0,"y":0.013},{"s":"5.0","x":9.1,"y":0.013},{"s":"5.0","x":9.2,"y":0.012},{"s":"5.0","x":9.3,"y":0.012},{"s":"5.0","x":9.4,"y":0.011},{"s":"5.0","x":9.5,"y":0.011},{"s":"5.0","x":9.6,"y":0.011},{"s":"5.0","x":9.7,"y":0.01},{"s":"5.0","x":9.8,"y":0.01},{"s":"5.0","x":9.9,"y":0.01},{"s":"5.0","x":10,"y":0.009},
{"s":"10.0","x":0,"y":1},{"s":"10.0","x":0.1,"y":0.998},{"s":"10.0","x":0.2,"y":0.99},{"s":"10.0","x":0.3,"y":0.978},{"s":"10.0","x":0.4,"y":0.961},{"s":"10.0","x":0.5,"y":0.939},{"s":"10.0","x":0.6,"y":0.913},{"s":"10.0","x":0.7,"y":0.884},{"s":"10.0","x":0.8,"y":0.85},{"s":"10.0","x":0.9,"y":0.814},
{"s":"10.0","x":1.0,"y":0.775},{"s":"10.0","x":1.1,"y":0.733},{"s":"10.0","x":1.2,"y":0.69},{"s":"10.0","x":1.3,"y":0.645},{"s":"10.0","x":1.4,"y":0.599},{"s":"10.0","x":1.5,"y":0.553},{"s":"10.0","x":1.6,"y":0.508},{"s":"10.0","x":1.7,"y":0.462},{"s":"10.0","x":1.8,"y":0.418},{"s":"10.0","x":1.9,"y":0.374},
{"s":"10.0","x":2.0,"y":0.333},{"s":"10.0","x":2.1,"y":0.293},{"s":"10.0","x":2.2,"y":0.256},{"s":"10.0","x":2.3,"y":0.22},{"s":"10.0","x":2.4,"y":0.188},{"s":"10.0","x":2.5,"y":0.161},{"s":"10.0","x":2.6,"y":0.134},{"s":"10.0","x":2.7,"y":0.11},{"s":"10.0","x":2.8,"y":0.09},{"s":"10.0","x":2.9,"y":0.072},
{"s":"10.0","x":3.0,"y":0.057},{"s":"10.0","x":3.1,"y":0.044},{"s":"10.0","x":3.2,"y":0.033},{"s":"10.0","x":3.3,"y":0.025},{"s":"10.0","x":3.4,"y":0.018},{"s":"10.0","x":3.5,"y":0.014},{"s":"10.0","x":3.6,"y":0.011},{"s":"10.0","x":3.7,"y":0.009},{"s":"10.0","x":3.8,"y":0.008},{"s":"10.0","x":3.9,"y":0.008},
{"s":"10.0","x":4.0,"y":0.009},{"s":"10.0","x":4.1,"y":0.011},{"s":"10.0","x":4.2,"y":0.012},{"s":"10.0","x":4.3,"y":0.014},{"s":"10.0","x":4.4,"y":0.017},{"s":"10.0","x":4.5,"y":0.019},{"s":"10.0","x":4.6,"y":0.02},{"s":"10.0","x":4.7,"y":0.022},{"s":"10.0","x":4.8,"y":0.024},{"s":"10.0","x":4.9,"y":0.025},
{"s":"10.0","x":5.0,"y":0.025},{"s":"10.0","x":5.1,"y":0.026},{"s":"10.0","x":5.2,"y":0.025},{"s":"10.0","x":5.3,"y":0.025},{"s":"10.0","x":5.4,"y":0.024},{"s":"10.0","x":5.5,"y":0.023},{"s":"10.0","x":5.6,"y":0.022},{"s":"10.0","x":5.7,"y":0.021},{"s":"10.0","x":5.8,"y":0.02},{"s":"10.0","x":5.9,"y":0.018},
{"s":"10.0","x":6.0,"y":0.017},{"s":"10.0","x":6.1,"y":0.015},{"s":"10.0","x":6.2,"y":0.014},{"s":"10.0","x":6.3,"y":0.012},{"s":"10.0","x":6.4,"y":0.011},{"s":"10.0","x":6.5,"y":0.01},{"s":"10.0","x":6.6,"y":0.009},{"s":"10.0","x":6.7,"y":0.009},{"s":"10.0","x":6.8,"y":0.008},{"s":"10.0","x":6.9,"y":0.008},
{"s":"10.0","x":7.0,"y":0.008},{"s":"10.0","x":7.1,"y":0.008},{"s":"10.0","x":7.2,"y":0.008},{"s":"10.0","x":7.3,"y":0.009},{"s":"10.0","x":7.4,"y":0.009},{"s":"10.0","x":7.5,"y":0.009},{"s":"10.0","x":7.6,"y":0.01},{"s":"10.0","x":7.7,"y":0.01},{"s":"10.0","x":7.8,"y":0.011},{"s":"10.0","x":7.9,"y":0.011},
{"s":"10.0","x":8.0,"y":0.011},{"s":"10.0","x":8.1,"y":0.012},{"s":"10.0","x":8.2,"y":0.012},{"s":"10.0","x":8.3,"y":0.012},{"s":"10.0","x":8.4,"y":0.012},{"s":"10.0","x":8.5,"y":0.012},{"s":"10.0","x":8.6,"y":0.012},{"s":"10.0","x":8.7,"y":0.012},{"s":"10.0","x":8.8,"y":0.012},{"s":"10.0","x":8.9,"y":0.011},
{"s":"10.0","x":9.0,"y":0.011},{"s":"10.0","x":9.1,"y":0.011},{"s":"10.0","x":9.2,"y":0.01},{"s":"10.0","x":9.3,"y":0.01},{"s":"10.0","x":9.4,"y":0.009},{"s":"10.0","x":9.5,"y":0.009},{"s":"10.0","x":9.6,"y":0.009},{"s":"10.0","x":9.7,"y":0.009},{"s":"10.0","x":9.8,"y":0.008},{"s":"10.0","x":9.9,"y":0.008},{"s":"10.0","x":10,"y":0.008},
{"s":"100.0","x":0,"y":1},{"s":"100.0","x":0.1,"y":0.998},{"s":"100.0","x":0.2,"y":0.99},{"s":"100.0","x":0.3,"y":0.978},{"s":"100.0","x":0.4,"y":0.961},{"s":"100.0","x":0.5,"y":0.939},{"s":"100.0","x":0.6,"y":0.913},{"s":"100.0","x":0.7,"y":0.884},{"s":"100.0","x":0.8,"y":0.85},{"s":"100.0","x":0.9,"y":0.814},
{"s":"100.0","x":1.0,"y":0.775},{"s":"100.0","x":1.1,"y":0.733},{"s":"100.0","x":1.2,"y":0.69},{"s":"100.0","x":1.3,"y":0.645},{"s":"100.0","x":1.4,"y":0.599},{"s":"100.0","x":1.5,"y":0.553},{"s":"100.0","x":1.6,"y":0.508},{"s":"100.0","x":1.7,"y":0.462},{"s":"100.0","x":1.8,"y":0.418},{"s":"100.0","x":1.9,"y":0.374},
{"s":"100.0","x":2.0,"y":0.333},{"s":"100.0","x":2.1,"y":0.293},{"s":"100.0","x":2.2,"y":0.256},{"s":"100.0","x":2.3,"y":0.22},{"s":"100.0","x":2.4,"y":0.188},{"s":"100.0","x":2.5,"y":0.158},{"s":"100.0","x":2.6,"y":0.131},{"s":"100.0","x":2.7,"y":0.107},{"s":"100.0","x":2.8,"y":0.086},{"s":"100.0","x":2.9,"y":0.067},
{"s":"100.0","x":3.0,"y":0.053},{"s":"100.0","x":3.1,"y":0.04},{"s":"100.0","x":3.2,"y":0.029},{"s":"100.0","x":3.3,"y":0.02},{"s":"100.0","x":3.4,"y":0.014},{"s":"100.0","x":3.5,"y":0.01},{"s":"100.0","x":3.6,"y":0.007},{"s":"100.0","x":3.7,"y":0.005},{"s":"100.0","x":3.8,"y":0.004},{"s":"100.0","x":3.9,"y":0.004},
{"s":"100.0","x":4.0,"y":0.005},{"s":"100.0","x":4.1,"y":0.007},{"s":"100.0","x":4.2,"y":0.008},{"s":"100.0","x":4.3,"y":0.01},{"s":"100.0","x":4.4,"y":0.013},{"s":"100.0","x":4.5,"y":0.015},{"s":"100.0","x":4.6,"y":0.016},{"s":"100.0","x":4.7,"y":0.018},{"s":"100.0","x":4.8,"y":0.02},{"s":"100.0","x":4.9,"y":0.021},
{"s":"100.0","x":5.0,"y":0.021},{"s":"100.0","x":5.1,"y":0.022},{"s":"100.0","x":5.2,"y":0.021},{"s":"100.0","x":5.3,"y":0.021},{"s":"100.0","x":5.4,"y":0.02},{"s":"100.0","x":5.5,"y":0.019},{"s":"100.0","x":5.6,"y":0.018},{"s":"100.0","x":5.7,"y":0.017},{"s":"100.0","x":5.8,"y":0.016},{"s":"100.0","x":5.9,"y":0.014},
{"s":"100.0","x":6.0,"y":0.013},{"s":"100.0","x":6.1,"y":0.011},{"s":"100.0","x":6.2,"y":0.01},{"s":"100.0","x":6.3,"y":0.008},{"s":"100.0","x":6.4,"y":0.007},{"s":"100.0","x":6.5,"y":0.006},{"s":"100.0","x":6.6,"y":0.005},{"s":"100.0","x":6.7,"y":0.005},{"s":"100.0","x":6.8,"y":0.004},{"s":"100.0","x":6.9,"y":0.004},
{"s":"100.0","x":7.0,"y":0.004},{"s":"100.0","x":7.1,"y":0.004},{"s":"100.0","x":7.2,"y":0.004},{"s":"100.0","x":7.3,"y":0.005},{"s":"100.0","x":7.4,"y":0.005},{"s":"100.0","x":7.5,"y":0.005},{"s":"100.0","x":7.6,"y":0.006},{"s":"100.0","x":7.7,"y":0.006},{"s":"100.0","x":7.8,"y":0.007},{"s":"100.0","x":7.9,"y":0.007},
{"s":"100.0","x":8.0,"y":0.007},{"s":"100.0","x":8.1,"y":0.008},{"s":"100.0","x":8.2,"y":0.008},{"s":"100.0","x":8.3,"y":0.008},{"s":"100.0","x":8.4,"y":0.008},{"s":"100.0","x":8.5,"y":0.008},{"s":"100.0","x":8.6,"y":0.008},{"s":"100.0","x":8.7,"y":0.008},{"s":"100.0","x":8.8,"y":0.008},{"s":"100.0","x":8.9,"y":0.007},
{"s":"100.0","x":9.0,"y":0.007},{"s":"100.0","x":9.1,"y":0.007},{"s":"100.0","x":9.2,"y":0.006},{"s":"100.0","x":9.3,"y":0.006},{"s":"100.0","x":9.4,"y":0.005},{"s":"100.0","x":9.5,"y":0.005},{"s":"100.0","x":9.6,"y":0.005},{"s":"100.0","x":9.7,"y":0.005},{"s":"100.0","x":9.8,"y":0.004},{"s":"100.0","x":9.9,"y":0.004},{"s":"100.0","x":10,"y":0.004},
{"s":"fit","x":0,"y":1},{"s":"fit","x":0.1,"y":0.998},{"s":"fit","x":0.2,"y":0.99},{"s":"fit","x":0.3,"y":0.978},{"s":"fit","x":0.4,"y":0.961},{"s":"fit","x":0.5,"y":0.939},{"s":"fit","x":0.6,"y":0.913},{"s":"fit","x":0.7,"y":0.884},{"s":"fit","x":0.8,"y":0.85},{"s":"fit","x":0.9,"y":0.814},
{"s":"fit","x":1.0,"y":0.775},{"s":"fit","x":1.1,"y":0.733},{"s":"fit","x":1.2,"y":0.69},{"s":"fit","x":1.3,"y":0.645},{"s":"fit","x":1.4,"y":0.599},{"s":"fit","x":1.5,"y":0.553},{"s":"fit","x":1.6,"y":0.508},{"s":"fit","x":1.7,"y":0.462},{"s":"fit","x":1.8,"y":0.418},{"s":"fit","x":1.9,"y":0.374},
{"s":"fit","x":2.0,"y":0.333},{"s":"fit","x":2.1,"y":0.293},{"s":"fit","x":2.2,"y":0.256},{"s":"fit","x":2.3,"y":0.22},{"s":"fit","x":2.4,"y":0.188},{"s":"fit","x":2.5,"y":0.158},{"s":"fit","x":2.6,"y":0.131},{"s":"fit","x":2.7,"y":0.107},{"s":"fit","x":2.8,"y":0.086},{"s":"fit","x":2.9,"y":0.067},
{"s":"fit","x":3.0,"y":0.051},{"s":"fit","x":3.1,"y":0.038},{"s":"fit","x":3.2,"y":0.027},{"s":"fit","x":3.3,"y":0.018},{"s":"fit","x":3.4,"y":0.011},{"s":"fit","x":3.5,"y":0.006},{"s":"fit","x":3.6,"y":0.003},{"s":"fit","x":3.7,"y":0.001},{"s":"fit","x":3.8,"y":0},{"s":"fit","x":3.9,"y":0},
{"s":"fit","x":4.0,"y":0.001},{"s":"fit","x":4.1,"y":0.003},{"s":"fit","x":4.2,"y":0.004},{"s":"fit","x":4.3,"y":0.006},{"s":"fit","x":4.4,"y":0.009},{"s":"fit","x":4.5,"y":0.011},{"s":"fit","x":4.6,"y":0.012},{"s":"fit","x":4.7,"y":0.014},{"s":"fit","x":4.8,"y":0.016},{"s":"fit","x":4.9,"y":0.017},
{"s":"fit","x":5.0,"y":0.017},{"s":"fit","x":5.1,"y":0.018},{"s":"fit","x":5.2,"y":0.017},{"s":"fit","x":5.3,"y":0.017},{"s":"fit","x":5.4,"y":0.016},{"s":"fit","x":5.5,"y":0.015},{"s":"fit","x":5.6,"y":0.014},{"s":"fit","x":5.7,"y":0.013},{"s":"fit","x":5.8,"y":0.012},{"s":"fit","x":5.9,"y":0.01},
{"s":"fit","x":6.0,"y":0.009},{"s":"fit","x":6.1,"y":0.007},{"s":"fit","x":6.2,"y":0.006},{"s":"fit","x":6.3,"y":0.004},{"s":"fit","x":6.4,"y":0.003},{"s":"fit","x":6.5,"y":0.002},{"s":"fit","x":6.6,"y":0.001},{"s":"fit","x":6.7,"y":0.001},{"s":"fit","x":6.8,"y":0},{"s":"fit","x":6.9,"y":0},
{"s":"fit","x":7.0,"y":0},{"s":"fit","x":7.1,"y":0},{"s":"fit","x":7.2,"y":0},{"s":"fit","x":7.3,"y":0.001},{"s":"fit","x":7.4,"y":0.001},{"s":"fit","x":7.5,"y":0.001},{"s":"fit","x":7.6,"y":0.002},{"s":"fit","x":7.7,"y":0.002},{"s":"fit","x":7.8,"y":0.003},{"s":"fit","x":7.9,"y":0.003},
{"s":"fit","x":8.0,"y":0.003},{"s":"fit","x":8.1,"y":0.004},{"s":"fit","x":8.2,"y":0.004},{"s":"fit","x":8.3,"y":0.004},{"s":"fit","x":8.4,"y":0.004},{"s":"fit","x":8.5,"y":0.004},{"s":"fit","x":8.6,"y":0.004},{"s":"fit","x":8.7,"y":0.004},{"s":"fit","x":8.8,"y":0.004},{"s":"fit","x":8.9,"y":0.003},
{"s":"fit","x":9.0,"y":0.003},{"s":"fit","x":9.1,"y":0.003},{"s":"fit","x":9.2,"y":0.002},{"s":"fit","x":9.3,"y":0.002},{"s":"fit","x":9.4,"y":0.001},{"s":"fit","x":9.5,"y":0.001},{"s":"fit","x":9.6,"y":0.001},{"s":"fit","x":9.7,"y":0.001},{"s":"fit","x":9.8,"y":0},{"s":"fit","x":9.9,"y":0},{"s":"fit","x":10,"y":0}
]
},
"vconcat":[
{
 "width":331,"height":196,
 "data":{"name":"a"},
 "encoding":{
  "x":{"field":"x","type":"quantitative","scale":{"domain":[-0.211,4.431],"nice":false,"zero":false},"axis":{"values":[0,1,2,3,4],"title":"ΓLt","titleY":18}},
  "y":{"field":"y","type":"quantitative","scale":{"domain":[-4.431,0.211],"nice":false,"zero":false},"axis":{"values":[-4,-3,-2,-1,0],"title":"ln |L₁₂ᵗʸᵖ(t)|","titleX":-29}}
 },
 "layer":[
  {"transform":[{"filter":"datum.s !== 'fit'"}],
   "mark":{"type":"point","filled":true,"size":8,"opacity":1},
   "encoding":{
    "color":{"field":"s","type":"nominal","scale":{"domain":["0.1","0.2","0.3","0.4","0.5","0.7","1.0","fit"],"range":["#1f77b4","#ff7f0e","#2ca02c","#d62728","#9467bd","#8c564b","#e377c2","#87c8eb"]},
      "legend":{"title":null,"orient":"none","legendX":15.5,"legendY":122,"columns":2,"columnPadding":18,"rowPadding":4,"symbolSize":14,"labelOffset":18,"labelExpr":"datum.value === 'fit' ? 'y(t) = −ΓLt' : 'λd = ' + datum.value"}},
    "shape":{"field":"s","type":"nominal","scale":{"domain":["0.1","0.2","0.3","0.4","0.5","0.7","1.0","fit"],"range":["circle","triangle-down","triangle-up","triangle-left","triangle-right","circle","square","M-5.2,-0.65H-2.2V0.65H-5.2Z M-1.1,-0.65H1.9V0.65H-1.1Z M3,-0.65H5.2V0.65H3Z"]},
      "legend":{"title":null,"orient":"none","legendX":15.5,"legendY":122,"columns":2,"columnPadding":18,"rowPadding":4,"symbolSize":14,"labelOffset":18,"labelExpr":"datum.value === 'fit' ? 'y(t) = −ΓLt' : 'λd = ' + datum.value"}}
   }},
  {"transform":[{"filter":"datum.s !== 'fit'"}],
   "mark":{"type":"line","interpolate":"monotone"},
   "encoding":{
    "color":{"field":"s","type":"nominal","legend":null},
    "size":{"field":"s","type":"nominal","scale":{"domain":["0.1","0.2","0.3","0.4","0.5","0.7","1.0"],"range":[3.2,3.2,3.2,3.4,3.4,3.6,4.6]},"legend":null}
   }},
  {"transform":[{"filter":"datum.s === 'fit'"}],
   "mark":{"type":"line","strokeWidth":2.5,"strokeDash":[7,4]},
   "encoding":{
    "color":{"field":"s","type":"nominal","legend":null}
   }},
  {"transform":[{"filter":"datum.s === 'fit' && datum.x === 0"}],
   "mark":{"type":"text","fontSize":20,"fontStyle":"italic","font":"Liberation Serif","align":"center","baseline":"middle","fill":"#111"},
   "encoding":{
    "text":{"value":"(a)"},
    "x":{"datum":4.27,"type":"quantitative"},
    "y":{"datum":-0.12,"type":"quantitative"}}}
 ]
},
{
 "width":331,"height":196,
 "data":{"name":"b"},
 "encoding":{
  "x":{"field":"x","type":"quantitative","scale":{"domain":[-0.5,10.5],"nice":false,"zero":false},"axis":{"values":[0,2,4,6,8,10],"title":"λdt","titleY":18}},
  "y":{"field":"y","type":"quantitative","scale":{"domain":[-0.05,1.05],"nice":false,"zero":false},"axis":{"values":[0,0.2,0.4,0.6,0.8,1],"format":".1f","title":"|L₁₂ᵗʸᵖ(t)|","titleX":-29}}
 },
 "layer":[
  {"transform":[{"filter":"datum.s !== 'fit'"}],
   "mark":{"type":"point","filled":false,"size":20,"strokeWidth":1,"opacity":1},
   "encoding":{
    "color":{"field":"s","type":"nominal","scale":{"domain":["1.0","1.5","2.0","3.0","5.0","10.0","100.0","fit"],"range":["#1f77b4","#ff7f0e","#2ca02c","#d62728","#9467bd","#8c564b","#e377c2","#87c8eb"]},
      "legend":{"title":null,"orient":"none","legendX":115,"legendY":7,"columns":2,"columnPadding":21,"rowPadding":4,"symbolSize":14,"labelOffset":16,"labelLimit":200,"labelExpr":"datum.value === 'fit' ? 'y(t)=4[J₁(λdt)]²/(λdt)²' : 'λd = ' + datum.value","encoding":{"labels":{"fontSize":{"condition":{"test":"datum.value === 'fit'","value":9},"value":13}}}}},
    "shape":{"field":"s","type":"nominal","scale":{"domain":["1.0","1.5","2.0","3.0","5.0","10.0","100.0","fit"],"range":["circle","triangle-down","triangle-up","triangle-left","triangle-right","circle","square","M-5.2,-0.25H-2.2V0.25H-5.2Z M-1.1,-0.25H1.9V0.25H-1.1Z M3,-0.25H5.2V0.25H3Z"]},
      "legend":{"title":null,"orient":"none","legendX":115,"legendY":7,"columns":2,"columnPadding":21,"rowPadding":4,"symbolSize":14,"labelOffset":16,"labelLimit":200,"labelExpr":"datum.value === 'fit' ? 'y(t)=4[J₁(λdt)]²/(λdt)²' : 'λd = ' + datum.value","encoding":{"labels":{"fontSize":{"condition":{"test":"datum.value === 'fit'","value":9},"value":13}}}}}
   }},
  {"transform":[{"filter":"datum.s === 'fit'"}],
   "mark":{"type":"line","strokeWidth":2.5,"strokeDash":[6,3],"interpolate":"monotone"},
   "encoding":{
    "color":{"field":"s","type":"nominal","legend":null}
   }},
  {"transform":[{"filter":"datum.s === 'fit' && datum.x === 0"}],
   "mark":{"type":"text","fontSize":20,"fontStyle":"italic","font":"Liberation Serif","align":"center","baseline":"middle","fill":"#111"},
   "encoding":{
    "text":{"value":"(b)"},
    "x":{"datum":10.03,"type":"quantitative"},
    "y":{"datum":0.97,"type":"quantitative"}}}
 ]
}
]
}
